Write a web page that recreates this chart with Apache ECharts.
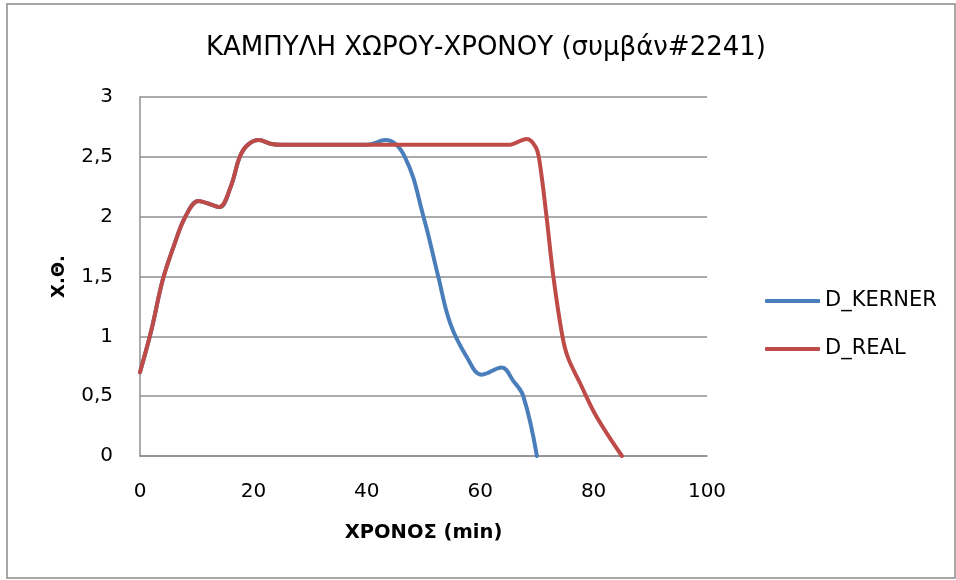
<!DOCTYPE html>
<html>
<head>
<meta charset="utf-8">
<script src="https://cdn.jsdelivr.net/npm/echarts@6/dist/echarts.min.js"></script>
<style>
  html, body { margin: 0; padding: 0; background: #fff; }
  #chart { width: 956px; height: 580px; }
</style>
</head>
<body>
<div id="chart"></div>
<script>
// Distance (Χ.Θ.) against time (min) for incident #2241
const seriesNames = ['D_KERNER', 'D_REAL'];

const timeReal = [0, 2, 4, 6, 8, 10.3, 12, 14, 16, 17.6, 19, 21, 23, 25, 35, 45, 55, 65, 68.2, 69.8, 70.5, 71.7, 72.9, 74.5, 75.5, 77.6, 80.5, 85];
const distReal = [0.70, 1.05, 1.47, 1.76, 2.00, 2.13, 2.11, 2.08, 2.25, 2.50, 2.60, 2.64, 2.61, 2.60, 2.60, 2.60, 2.60, 2.60, 2.65, 2.58, 2.45, 2.00, 1.50, 1.00, 0.82, 0.61, 0.33, 0];

const timeKerner = [0, 2, 4, 6, 8, 10.3, 12, 14, 16, 17.6, 19, 21, 23, 25, 35, 40, 43.3, 46.7, 50, 52.6, 54.7, 57.6, 60.3, 63.8, 65.8, 67.6, 70];
const distKerner = [0.70, 1.05, 1.47, 1.76, 2.00, 2.13, 2.11, 2.08, 2.25, 2.50, 2.60, 2.64, 2.61, 2.60, 2.60, 2.60, 2.64, 2.50, 2.00, 1.50, 1.11, 0.83, 0.68, 0.74, 0.63, 0.50, 0];

const xTicks = [0, 20, 40, 60, 80, 100];
const yTicks = [0, 0.5, 1, 1.5, 2, 2.5, 3];

const colors = ['#4A7EBB', '#BE4B48'];
const pairs = (xs, ys) => xs.map((x, i) => [x, ys[i]]);

const chart = echarts.init(document.getElementById('chart'), null, { renderer: 'canvas' });
const font = 'DejaVu Sans';

chart.setOption({
  animation: false,
  backgroundColor: '#fff',
  title: {
    text: 'ΚΑΜΠΥΛΗ ΧΩΡΟΥ-ΧΡΟΝΟΥ (συμβάν#2241)',
    left: 206,
    top: 35,
    padding: 0,
    textStyle: { fontFamily: font, fontSize: 26, fontWeight: 'normal', color: '#000' }
  },
  graphic: [{
    type: 'rect',
    shape: { x: 7, y: 4, width: 948, height: 574 },
    style: { fill: 'none', stroke: '#8a8a8a', lineWidth: 1.5 },
    silent: true
  }],
  legend: {
    orient: 'vertical',
    left: 765,
    top: 290,
    padding: 0,
    itemWidth: 55,
    itemHeight: 4,
    itemGap: 26,
    icon: 'roundRect',
    textStyle: { fontFamily: font, fontSize: 21, color: '#000', lineHeight: 22 },
    data: seriesNames
  },
  grid: { left: 140, right: 249, top: 97, bottom: 124 },
  xAxis: {
    type: 'value',
    min: xTicks[0],
    max: xTicks[xTicks.length - 1],
    interval: 20,
    name: 'ΧΡΟΝΟΣ (min)',
    nameLocation: 'middle',
    nameGap: 67,
    nameTextStyle: { fontFamily: font, fontSize: 19.5, fontWeight: 'bold', color: '#000' },
    axisLine: { show: true, lineStyle: { color: '#8f8f8f', width: 1.5 } },
    axisTick: { show: false },
    splitLine: { show: false },
    axisLabel: { margin: 26, fontFamily: font, fontSize: 20, color: '#000' }
  },
  yAxis: {
    type: 'value',
    min: yTicks[0],
    max: yTicks[yTicks.length - 1],
    interval: 0.5,
    name: 'Χ.Θ.',
    nameLocation: 'middle',
    nameGap: 72,
    nameRotate: 90,
    nameTextStyle: { fontFamily: font, fontSize: 18, fontWeight: 'bold', color: '#000' },
    axisLine: { show: true, lineStyle: { color: '#8f8f8f', width: 1.5 } },
    axisTick: { show: false },
    splitLine: { show: true, lineStyle: { color: '#8f8f8f', width: 1.5 } },
    axisLabel: {
      margin: 27, fontFamily: font, fontSize: 20, color: '#000',
      formatter: v => String(v).replace('.', ',')
    }
  },
  series: [
    {
      name: seriesNames[0],
      type: 'line',
      smooth: 0.4,
      symbol: 'none',
      color: colors[0],
      lineStyle: { width: 4, color: colors[0], cap: 'round', join: 'round' },
      data: pairs(timeKerner, distKerner),
      z: 2
    },
    {
      name: seriesNames[1],
      type: 'line',
      smooth: 0.35,
      symbol: 'none',
      color: colors[1],
      lineStyle: { width: 4, color: colors[1], cap: 'round', join: 'round' },
      data: pairs(timeReal, distReal),
      z: 3
    }
  ]
});
</script>
</body>
</html>
